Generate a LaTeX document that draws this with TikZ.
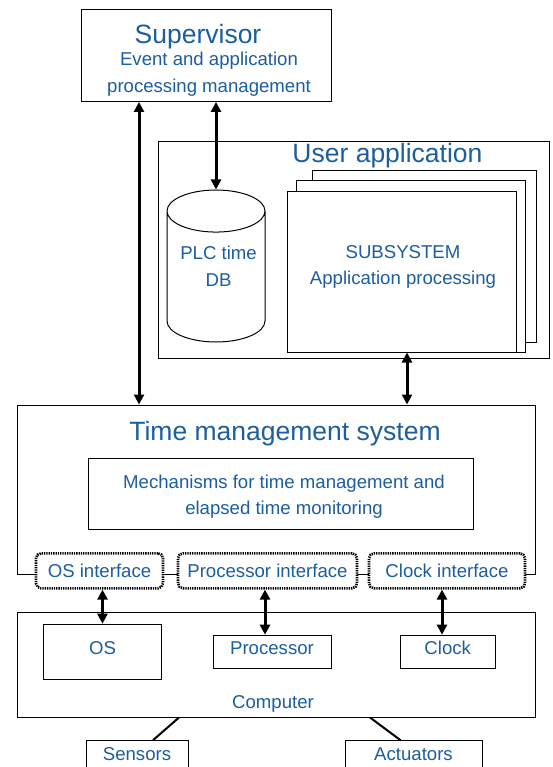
\documentclass[tikz,border=0pt]{standalone}
\usepackage{fontspec}
\setmainfont{Liberation Sans}
\usetikzlibrary{arrows.meta, shapes.geometric}

\definecolor{txtblue}{RGB}{28,94,158}
\newcommand{\txtsmall}{\fontsize{18.6}{26.6}\selectfont}
\newcommand{\txtlarge}{\fontsize{26.5}{30}\selectfont}

\tikzset{
  box/.style={draw, line width=1pt, fill=white, inner sep=0pt},
  cbox/.style={box, text=txtblue, font=\txtsmall, text height=13pt, text depth=8pt},
  txt/.style={text=txtblue, font=\txtsmall, inner sep=0pt},
  title/.style={text=txtblue, font=\txtlarge, inner sep=0pt},
  iface/.style={draw, line width=2.6pt, dash pattern=on 1.3pt off 1pt, rounded corners=5pt,
                fill=white, text=txtblue, font=\txtsmall, inner sep=0pt},
  db/.style={cylinder, shape border rotate=90, aspect=0.55, draw, line width=1pt, fill=white,
             font=\txtsmall, align=center, inner sep=0pt, anchor=shape center},
  dbl/.style={{Triangle[length=10pt,width=10pt]}-{Triangle[length=10pt,width=10pt]}, line width=3pt},
  wire/.style={line width=2pt}
}

\begin{document}
\begin{tikzpicture}[x=1pt, y=-1pt]
\useasboundingbox (0,0) rectangle (552,767);

% Supervisor
\node[box, minimum width=250pt, minimum height=92pt] (sup) at (206,55.5) {};
\node[title] (suptitle) at (198,36.5) {Supervisor};
\node[txt, align=center] (suptext) at (209,74) {Event and application\\processing management};

% User application with its subsystems
\node[box, minimum width=391pt, minimum height=216pt] (app) at (353.5,250) {};
\node[title] (apptitle) at (387.5,155.5) {User application};
\node[db, minimum width=98pt, minimum height=152pt] (db) at (216,266) {\phantom{PLC time}\\\phantom{DB}};
\node[txt, align=center] (dbtext) at (218.5,266.5) {PLC time\\DB};
\node[box, minimum width=224pt, minimum height=171pt] (page3) at (424,256.5) {};
\node[box, minimum width=229pt, minimum height=171pt] (page2) at (410.5,266.5) {};
\node[box, minimum width=229pt, minimum height=160pt] (page1) at (401.5,272) {};
\node[txt, align=center] (subsys) at (403,267) {SUBSYSTEM\\Application processing};

% Time management system
\node[box, minimum width=518pt, minimum height=169pt] (tms) at (276,489.5) {};
\node[title] (tmstitle) at (285,433.5) {Time management system};
\node[box, minimum width=385pt, minimum height=71pt] (mech) at (280.5,493.5) {};
\node[txt, align=center] (mechtext) at (284,496.5) {Mechanisms for time management and\\elapsed time monitoring};
\node[iface, minimum width=127pt, minimum height=35pt] (osif) at (99.5,570.8) {OS interface};
\node[iface, minimum width=179pt, minimum height=35pt] (procif) at (267.5,570.8) {Processor interface};
\node[iface, minimum width=156pt, minimum height=35pt] (clockif) at (447,570.8) {Clock interface};

% Computer
\node[box, minimum width=518pt, minimum height=105pt] (comp) at (276,664.5) {};
\node[txt] (comptext) at (273,704) {Computer};
\node[cbox, minimum width=118pt, minimum height=55pt] (os) at (102.5,651.7) {OS};
\node[cbox, minimum width=118pt, minimum height=33pt] (proc) at (272,651.7) {Processor};
\node[cbox, minimum width=95pt, minimum height=33pt] (clock) at (447.7,651.7) {Clock};
\node[cbox, minimum width=102pt, minimum height=34pt] (sens) at (137,757.7) {Sensors};
\node[cbox, minimum width=137pt, minimum height=34pt] (act) at (413.5,757.7) {Actuators};

\draw[dbl] ([xshift=-67pt]sup.south) -- ([xshift=-137pt]tms.north);
\draw[dbl] (sup.south -| db.north) -- (db.north);
\draw[dbl] ([xshift=5.5pt]page1.south) -- ([xshift=131pt]tms.north);
\draw[dbl] (osif.south -| os.north) -- (os.north);
\draw[dbl] ([xshift=-2.5pt]procif.south) -- ([xshift=-7pt]proc.north);
\draw[dbl] ([xshift=-5pt]clockif.south) -- ([xshift=-5.7pt]clock.north);

\draw[wire] ([xshift=-97pt]comp.south) -- ([xshift=16pt]sens.north);
\draw[wire] ([xshift=94pt]comp.south) -- ([xshift=-13pt]act.north);
\end{tikzpicture}
\end{document}
